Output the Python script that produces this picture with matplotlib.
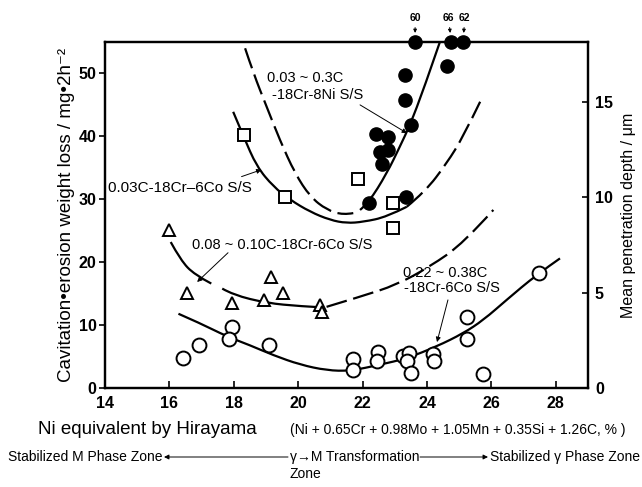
import matplotlib
matplotlib.use("Agg")
import matplotlib.pyplot as plt
import numpy as np
from matplotlib.path import Path
from matplotlib.patches import PathPatch, FancyArrowPatch

plt.rcParams['font.family'] = ['Liberation Sans', 'DejaVu Sans']

# ---- measured points: Ni equivalent (%) vs weight loss (mg/2h) ----
ni_8ni = [22.2, 22.42, 22.79, 22.54, 22.6, 22.79, 23.35, 23.32, 23.32, 23.5, 24.62]
wl_8ni = [29.4, 40.4, 39.9, 37.5, 35.6, 37.8, 30.4, 45.8, 49.8, 41.8, 51.2]
# off-scale results, value printed above the frame
ni_8ni_top = [23.63, 24.75, 25.12]
wl_8ni_top = [60, 66, 62]

ni_003c = [18.32, 19.59, 21.86, 22.94, 22.94]
wl_003c = [40.2, 30.4, 33.2, 29.4, 25.4]

ni_008c = [15.99, 16.55, 17.94, 18.94, 19.15, 19.53, 20.68, 20.74]
wl_008c = [25.1, 15.1, 13.5, 14.0, 17.6, 15.1, 13.2, 12.1]

ni_022c = [16.43, 16.92, 17.94, 17.86, 19.1, 21.7, 21.7, 22.48, 22.45, 23.26,
           23.44, 23.38, 23.5, 24.19, 24.22, 25.24, 25.24, 25.74, 27.48]
wl_022c = [4.8, 6.8, 9.7, 7.8, 6.8, 4.6, 2.9, 5.7, 4.3, 5.1,
           5.6, 4.3, 2.4, 5.4, 4.3, 11.3, 7.8, 2.2, 18.3]

# ---- hand-drawn trend curves ----
c8ni_dash_x = [18.35, 18.61, 19.02, 19.43, 19.90, 20.37, 20.89, 21.40, 21.71]
c8ni_dash_y = [54.0, 50.0, 44.7, 39.4, 34.1, 30.4, 28.3, 27.5, 27.8]
c8ni_solid_x = [21.92, 22.18, 22.75, 23.16, 23.47, 23.89, 24.40]
c8ni_solid_y = [28.3, 29.4, 34.1, 38.4, 41.8, 47.4, 55.0]

c003_solid_x = [17.98, 18.30, 18.71, 19.23, 19.75, 20.37, 20.99, 21.50, 22.02, 22.75, 23.37]
c003_solid_y = [43.9, 40.0, 35.2, 32.0, 29.9, 28.0, 26.7, 26.2, 26.4, 27.2, 28.8]
c003_dash_x = [23.37, 23.94, 24.61, 25.13, 25.65]
c003_dash_y = [28.8, 31.2, 35.7, 40.0, 45.5]

c008_solid1_x = [16.04, 16.35, 16.78, 17.30]
c008_solid1_y = [23.2, 20.3, 18.0, 16.6]
c008_solid2_x = [17.64, 17.98, 19.02, 20.06, 20.78]
c008_solid2_y = [15.8, 14.8, 13.5, 13.0, 12.8]
c008_dash_x = [20.88, 21.92, 23.06, 24.09, 25.13, 26.06]
c008_dash_y = [12.9, 14.5, 16.4, 19.3, 23.0, 28.3]

c022_x = [16.28, 16.95, 17.78, 18.50, 19.23, 20.06, 20.89, 21.61, 22.54, 23.37,
          24.30, 25.13, 25.75, 26.47, 27.40, 28.13]
c022_y = [11.8, 10.3, 8.2, 6.8, 5.2, 3.7, 2.8, 2.7, 3.7, 4.7,
          6.6, 8.7, 10.8, 14.0, 18.0, 20.6]

YMAX = 55
x_ticks = [14, 16, 18, 20, 22, 24, 26, 28]
y_ticks = [0, 10, 20, 30, 40, 50]
depth_ticks = [0, 5, 10, 15]

LW = 1.6
DASH = (9.5, 3)


def curve(ax, xs, ys, dashed=False):
    # quadratic bezier through the midpoints, knots act as control points
    pts = list(zip(xs, ys))
    verts = [pts[0]]
    codes = [Path.MOVETO]
    for i in range(1, len(pts) - 1):
        mid = ((pts[i][0] + pts[i + 1][0]) / 2, (pts[i][1] + pts[i + 1][1]) / 2)
        if i == len(pts) - 2:
            mid = pts[-1]
        verts += [pts[i], mid]
        codes += [Path.CURVE3, Path.CURVE3]
    if len(pts) == 2:
        verts.append(pts[1])
        codes.append(Path.LINETO)
    patch = PathPatch(Path(verts, codes), fill=False, edgecolor='black', lw=LW,
                      capstyle='butt')
    if dashed:
        patch.set_linestyle((0, DASH))
    ax.add_patch(patch)


fig = plt.figure(figsize=(6.42, 4.87), dpi=100)
ax = fig.add_axes([0.1636, 0.2033, 0.7523, 0.7105])

curve(ax, c8ni_dash_x, c8ni_dash_y, dashed=True)
curve(ax, c8ni_solid_x, c8ni_solid_y)
curve(ax, c003_solid_x, c003_solid_y)
curve(ax, c003_dash_x, c003_dash_y, dashed=True)
curve(ax, c008_solid1_x, c008_solid1_y)
curve(ax, c008_solid2_x, c008_solid2_y)
curve(ax, c008_dash_x, c008_dash_y, dashed=True)
curve(ax, c022_x, c022_y)

ax.plot(ni_022c, wl_022c, 'o', ms=10, mfc='white', mec='black', mew=1.4, ls='none')
ax.plot(ni_008c, wl_008c, '^', ms=9, mfc='white', mec='black', mew=1.4, ls='none')
ax.plot(ni_003c, wl_003c, 's', ms=8.5, mfc='white', mec='black', mew=1.4, ls='none')
ax.plot(ni_8ni, wl_8ni, 'o', ms=9.5, color='black', ls='none')
top_y = np.minimum(wl_8ni_top, YMAX)
ax.plot(ni_8ni_top, top_y, 'o', ms=9.5, color='black', ls='none', clip_on=False, zorder=5)
nudge = [0, -1.8, 1.2]  # keep the two close labels apart
for x, v, y, dx in zip(ni_8ni_top, wl_8ni_top, top_y, nudge):
    ax.annotate(str(v), xy=(x, y), xytext=(dx, 17), textcoords='offset points',
                ha='center', va='center', fontsize=7.5, fontweight='bold',
                arrowprops=dict(arrowstyle='-|>', lw=0.7, color='black',
                                mutation_scale=5, shrinkA=1, shrinkB=6.5))

ax.set_xlim(14, 29)
ax.set_ylim(0, YMAX)
ax.set_xticks(x_ticks)
ax.set_yticks(y_ticks)
tick_font = dict(weight='bold', size=11.5)
for lab in ax.get_xticklabels() + ax.get_yticklabels():
    lab.set(**tick_font)
ax.tick_params(axis='x', direction='in', length=5, width=1.2, pad=6)
ax.tick_params(axis='y', direction='out', length=4, width=1.2, pad=2)
for s in ax.spines.values():
    s.set_linewidth(1.6)

ax2 = ax.twinx()
ax2.set_ylim(0, 18.15)
ax2.set_yticks(depth_ticks)
for lab in ax2.get_yticklabels():
    lab.set(**tick_font)
ax2.tick_params(axis='y', direction='in', length=4, width=1.2, pad=5)
for s in ax2.spines.values():
    s.set_linewidth(1.6)

ax.set_ylabel('Cavitation\u2022erosion weight loss / mg\u20222h\u207b\u00b2', fontsize=13.5, labelpad=3)
ax2.set_ylabel('Mean penetration depth / \u03bcm', fontsize=11.5, labelpad=6)

# curve labels with pointer arrows
lab_kw = dict(fontsize=10.5, color='black', va='center', ha='left')
arr_kw = dict(arrowstyle='-|>', lw=0.7, color='black', mutation_scale=7, shrinkA=0, shrinkB=0)
ax.text(19.03, 49.3, '0.03 ~ 0.3C', **lab_kw)
ax.text(19.2, 46.6, '-18Cr-8Ni S/S', **lab_kw)
ax.annotate('', xy=(23.38, 40.5), xytext=(21.92, 45.0), arrowprops=arr_kw)

ax.text(14.09, 31.8, '0.03C-18Cr\u20136Co S/S', fontsize=11, va='center', ha='left')
ax.annotate('', xy=(18.86, 34.7), xytext=(18.24, 33.6), arrowprops=arr_kw)

ax.text(16.70, 22.7, '0.08 ~ 0.10C-18Cr-6Co S/S', **lab_kw)
ax.annotate('', xy=(16.86, 16.85), xytext=(17.82, 21.5), arrowprops=arr_kw)

ax.text(23.25, 18.3, '0.22 ~ 0.38C', **lab_kw)
ax.text(23.28, 15.9, '-18Cr-6Co S/S', **lab_kw)
ax.annotate('', xy=(24.31, 7.3), xytext=(24.65, 14.0), arrowprops=arr_kw)

# x axis title: name plus the formula in a smaller face
fig.text(38 / 642, 1 - 430 / 487, 'Ni equivalent by Hirayama', fontsize=13.5,
         ha='left', va='center')
fig.text(290 / 642, 1 - 430 / 487,
         '(Ni + 0.65Cr + 0.98Mo + 1.05Mn + 0.35Si + 1.26C, % )',
         fontsize=10, ha='left', va='center')

# phase zone bar underneath
zone_y = 1 - 457 / 487
zk = dict(fontsize=10, va='center')
fig.text(8 / 642, zone_y, 'Stabilized M Phase Zone', ha='left', **zk)
fig.text(290 / 642, zone_y, '\u03b3\u2192M Transformation', ha='left', **zk)
fig.text(290 / 642, 1 - 474 / 487, 'Zone', ha='left', **zk)
fig.text(640 / 642, zone_y, 'Stabilized \u03b3 Phase Zone', ha='right', **zk)
zarr = dict(arrowstyle='-|>', lw=0.7, color='black', mutation_scale=7, shrinkA=0, shrinkB=0)
fig.add_artist(FancyArrowPatch((288 / 642, zone_y), (164 / 642, zone_y),
                               transform=fig.transFigure, **zarr))
fig.add_artist(FancyArrowPatch((420 / 642, zone_y), (488 / 642, zone_y),
                               transform=fig.transFigure, **zarr))

fig.savefig('out.png', dpi=100)
